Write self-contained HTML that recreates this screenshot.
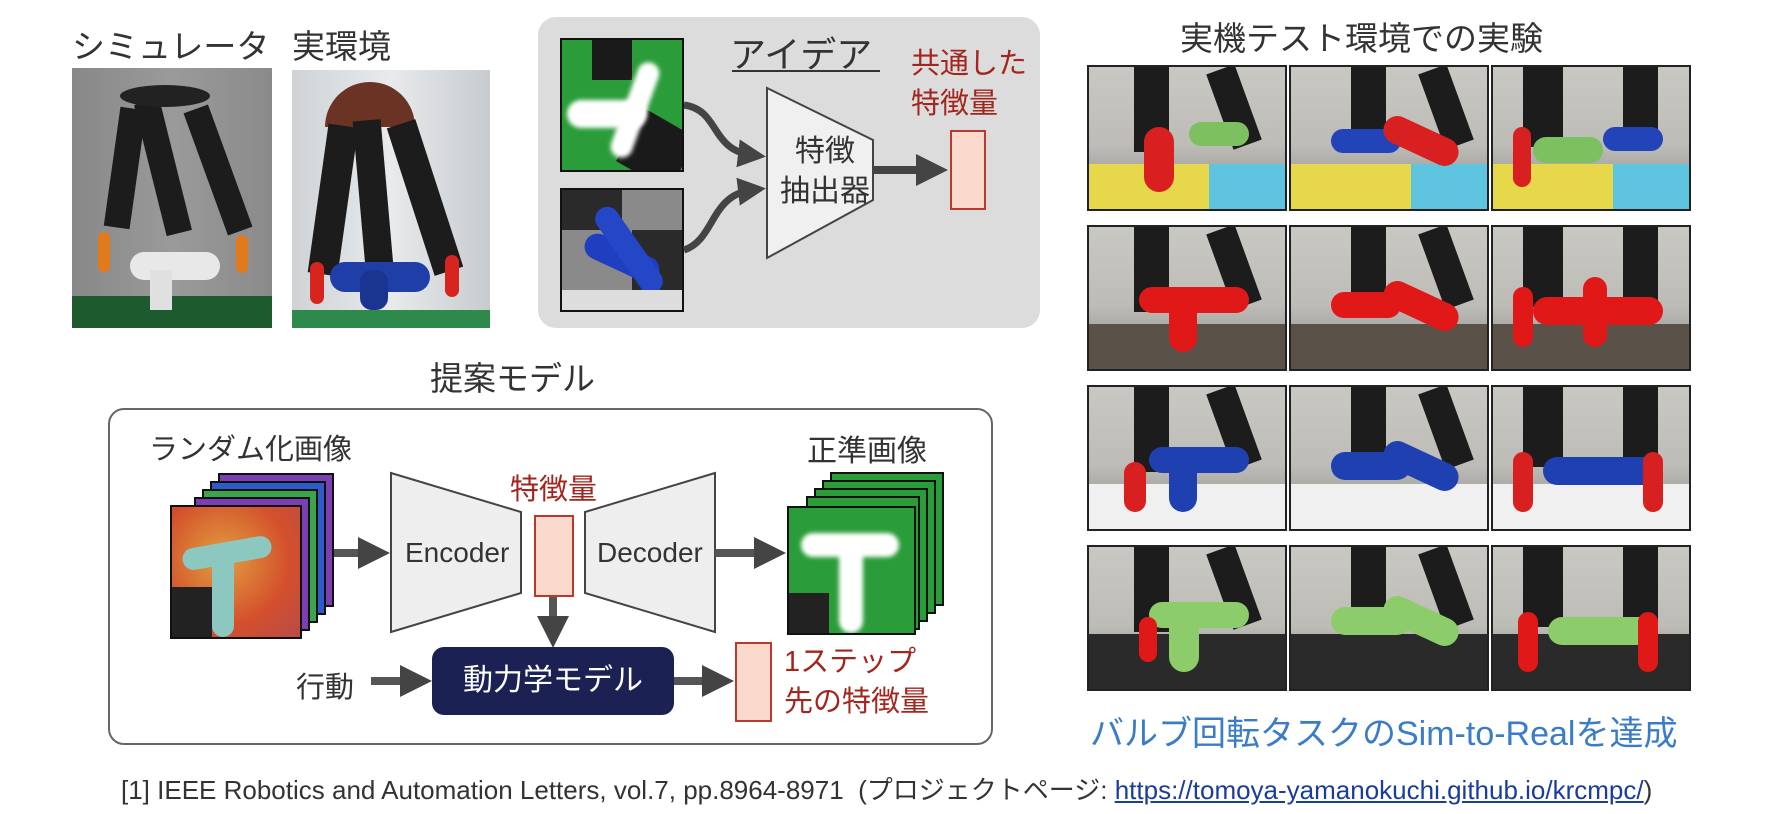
<!DOCTYPE html>
<html><head><meta charset="utf-8"><style>
body{margin:0;width:1780px;height:814px;background:#fff;position:relative;overflow:hidden;font-family:"Liberation Sans","Noto Sans CJK JP",sans-serif;color:#333}
.a{position:absolute}
.t{position:absolute;white-space:nowrap;font-size:30px;color:#333}
.red{color:#a3261e}
.pink{position:absolute;background:#f9d9cc;border:2px solid #b8392e;box-sizing:border-box}
.cell{position:absolute;width:200px;height:146px;border:2px solid #222;box-sizing:border-box;overflow:hidden;background:linear-gradient(#c9c8c2 0,#bdbcb6 55%,#888 100%)}
.arm{position:absolute;background:#1c1c1c}
.fl{position:absolute;left:0;right:0;bottom:0;height:45px}
.v{position:absolute;border-radius:20px}
</style></head><body>

<div class="t" style="left:72px;top:20px;font-size:33px">シミュレータ</div>
<div class="t" style="left:292px;top:20px;font-size:33px">実環境</div>
<div class="a" style="left:72px;top:68px;width:200px;height:260px;background:linear-gradient(90deg,#888,#9a9a9a 50%,#8a8a8a)"></div>
<div class="a" style="left:72px;top:296px;width:200px;height:32px;background:#1d5a2e"></div>
<div class="arm" style="left:112px;top:108px;width:26px;height:120px;transform:rotate(8deg)"></div>
<div class="arm" style="left:150px;top:100px;width:26px;height:135px;transform:rotate(-14deg)"></div>
<div class="arm" style="left:205px;top:105px;width:26px;height:130px;transform:rotate(-20deg)"></div>
<div class="a" style="left:120px;top:85px;width:90px;height:22px;border-radius:50%;background:#222"></div>
<div class="a" style="left:98px;top:232px;width:12px;height:40px;background:#e07a1a;border-radius:6px"></div>
<div class="a" style="left:236px;top:235px;width:12px;height:38px;background:#e07a1a;border-radius:6px"></div>
<div class="a" style="left:130px;top:252px;width:90px;height:28px;border-radius:14px;background:#e8e8e8"></div>
<div class="a" style="left:150px;top:270px;width:22px;height:40px;background:#e0e0e0"></div>

<div class="a" style="left:292px;top:70px;width:198px;height:258px;background:linear-gradient(90deg,#cfd3d6,#e8eaec 50%,#c8ccce)"></div>
<div class="a" style="left:292px;top:310px;width:198px;height:18px;background:#2e8a4b"></div>
<div class="a" style="left:325px;top:82px;width:90px;height:45px;border-radius:45px 45px 0 0;background:#6a3324"></div>
<div class="arm" style="left:318px;top:125px;width:30px;height:150px;transform:rotate(8deg)"></div>
<div class="arm" style="left:360px;top:120px;width:28px;height:170px;transform:rotate(-5deg)"></div>
<div class="arm" style="left:410px;top:120px;width:30px;height:155px;transform:rotate(-18deg)"></div>
<div class="a" style="left:310px;top:262px;width:14px;height:42px;background:#d8241e;border-radius:7px"></div>
<div class="a" style="left:445px;top:255px;width:14px;height:42px;background:#d8241e;border-radius:7px"></div>
<div class="a" style="left:330px;top:262px;width:100px;height:30px;border-radius:15px;background:#1f3ea8"></div>
<div class="a" style="left:360px;top:270px;width:28px;height:40px;border-radius:12px;background:#1a3590"></div>

<div class="a" style="left:538px;top:17px;width:502px;height:311px;background:#dcdcdc;border-radius:18px"></div>
<div class="a" style="left:560px;top:38px;width:124px;height:134px;background:#2a9d3a;border:2px solid #111;box-sizing:border-box;overflow:hidden">
 <div class="a" style="left:30px;top:0;width:40px;height:40px;background:#1a1a1a"></div>
 <div class="a" style="left:65px;top:80px;width:60px;height:60px;background:#1a1a1a;transform:rotate(30deg)"></div>
 <div class="a" style="left:5px;top:60px;width:80px;height:28px;background:#fff;border-radius:14px;filter:blur(2px)"></div>
 <div class="a" style="left:62px;top:20px;width:22px;height:100px;background:#fff;border-radius:11px;transform:rotate(20deg);filter:blur(2px)"></div>
</div>
<div class="a" style="left:560px;top:188px;width:124px;height:124px;background:#8a8a8a;border:2px solid #111;box-sizing:border-box;overflow:hidden">
 <div class="a" style="left:0;top:0;width:60px;height:40px;background:#2a2a2a"></div>
 <div class="a" style="left:70px;top:40px;width:55px;height:80px;background:#2a2a2a"></div>
 <div class="a" style="left:20px;top:55px;width:80px;height:26px;background:#1f3ec0;border-radius:13px;transform:rotate(25deg)"></div>
 <div class="a" style="left:55px;top:10px;width:24px;height:100px;background:#2447c8;border-radius:12px;transform:rotate(-35deg)"></div>
 <div class="a" style="left:0;top:100px;width:124px;height:24px;background:#ddd"></div>
</div>
<div class="t" style="left:730px;top:26px;font-size:36px">アイデア</div>
<div class="a" style="left:732px;top:70px;width:148px;height:2px;background:#333"></div>
<div class="t red" style="left:911px;top:44px;font-size:29px;line-height:40px">共通した<br>特徴量</div>
<svg class="a" style="left:0;top:0" width="1780" height="814">
 <defs><marker id="m" markerWidth="4" markerHeight="4" refX="2" refY="2" orient="auto" markerUnits="strokeWidth"><path d="M0,0 L4,2 L0,4z" fill="#444"/></marker></defs>
 <path d="M684,105 C720,110 710,150 752,155" stroke="#444" stroke-width="7" fill="none" marker-end="url(#m)"/>
 <path d="M684,250 C715,240 710,195 752,190" stroke="#444" stroke-width="7" fill="none" marker-end="url(#m)"/>
 <polygon points="767,88 873,140 873,200 767,258" fill="#f0f0f0" stroke="#444" stroke-width="2"/>
 <line x1="873" y1="170" x2="932" y2="170" stroke="#444" stroke-width="8" marker-end="url(#m)"/>
 <polygon points="391,473 521,512 521,593 391,632" fill="#eeeeee" stroke="#444" stroke-width="2"/>
 <polygon points="715,473 585,512 585,593 715,632" fill="#eeeeee" stroke="#444" stroke-width="2"/>
 <line x1="330" y1="553" x2="374" y2="553" stroke="#555" stroke-width="8" marker-end="url(#m)"/>
 <line x1="715" y1="553" x2="770" y2="553" stroke="#555" stroke-width="8" marker-end="url(#m)"/>
 <line x1="553" y1="597" x2="553" y2="632" stroke="#555" stroke-width="8" marker-end="url(#m)"/>
 <line x1="371" y1="681" x2="416" y2="681" stroke="#555" stroke-width="8" marker-end="url(#m)"/>
 <line x1="674" y1="681" x2="718" y2="681" stroke="#555" stroke-width="8" marker-end="url(#m)"/>
</svg>
<div class="t" style="left:780px;top:132px;width:90px;font-size:30px;line-height:40px;text-align:center">特徴<br>抽出器</div>
<div class="pink" style="left:950px;top:130px;width:36px;height:80px"></div>

<div class="t" style="left:430px;top:352px;font-size:33px">提案モデル</div>
<div class="a" style="left:108px;top:408px;width:885px;height:337px;border:2px solid #666;border-radius:16px;box-sizing:border-box"></div>
<div class="t" style="left:149px;top:426px;font-size:29px">ランダム化画像</div>
<div class="a" style="left:218px;top:473px;width:112px;height:130px;background:#7a3fb0;border:2px solid #111"></div>
<div class="a" style="left:210px;top:481px;width:112px;height:130px;background:#2d5cc8;border:2px solid #111"></div>
<div class="a" style="left:202px;top:489px;width:112px;height:130px;background:#3aa54a;border:2px solid #111"></div>
<div class="a" style="left:194px;top:497px;width:112px;height:130px;background:#7a3fb0;border:2px solid #111"></div>
<div class="a" style="left:170px;top:505px;width:128px;height:130px;background:radial-gradient(circle at 40% 40%,#e0a040,#d4502c 60%,#b84a4a);border:2px solid #111;overflow:hidden">
 <div class="a" style="left:10px;top:35px;width:90px;height:22px;border-radius:11px;background:#8cc8c0;transform:rotate(-10deg)"></div>
 <div class="a" style="left:40px;top:40px;width:22px;height:90px;border-radius:11px;background:#8cc8c0"></div>
 <div class="a" style="left:0;top:80px;width:40px;height:50px;background:#222"></div>
</div>
<div class="t" style="left:405px;top:537px;font-size:28px">Encoder</div>
<div class="t" style="left:597px;top:537px;font-size:28px">Decoder</div>
<div class="t red" style="left:510px;top:466px;font-size:29px">特徴量</div>
<div class="pink" style="left:534px;top:515px;width:40px;height:82px"></div>
<div class="t" style="left:807px;top:426px;font-size:30px">正準画像</div>
<div class="a" style="left:830px;top:472px;width:110px;height:130px;background:#2a9d3a;border:2px solid #111"></div>
<div class="a" style="left:822px;top:480px;width:110px;height:130px;background:#2a9d3a;border:2px solid #111"></div>
<div class="a" style="left:814px;top:488px;width:110px;height:130px;background:#2a9d3a;border:2px solid #111"></div>
<div class="a" style="left:806px;top:496px;width:110px;height:130px;background:#2a9d3a;border:2px solid #111"></div>
<div class="a" style="left:787px;top:506px;width:125px;height:125px;background:#2a9d3a;border:2px solid #111;overflow:hidden">
 <div class="a" style="left:12px;top:25px;width:98px;height:24px;border-radius:12px;background:#fff;filter:blur(2px)"></div>
 <div class="a" style="left:50px;top:35px;width:24px;height:90px;border-radius:12px;background:#fff;filter:blur(2px)"></div>
 <div class="a" style="left:0;top:85px;width:40px;height:40px;background:#222"></div>
</div>
<div class="a" style="left:432px;top:647px;width:242px;height:68px;background:#1b2152;border-radius:12px;color:#fff;font-size:30px;line-height:68px;text-align:center">動力学モデル</div>
<div class="t" style="left:296px;top:664px;font-size:29px">行動</div>
<div class="pink" style="left:735px;top:642px;width:37px;height:80px"></div>
<div class="t red" style="left:784px;top:642px;font-size:29px;line-height:40px">1ステップ<br>先の特徴量</div>

<div class="t" style="left:1180px;top:12px;font-size:33px">実機テスト環境での実験</div>
<div class="a" style="left:1087px;top:65px;width:604px;height:628px">
 <div class="cell" style="left:0;top:0"><div class="fl" style="background:#e6d84a"></div><div class="fl" style="left:120px;background:#5ec4df"></div><div class="arm" style="left:45px;top:0;width:35px;height:85px"></div><div class="arm" style="left:130px;top:0;width:30px;height:80px;transform:rotate(-20deg)"></div><div class="v" style="left:55px;top:60px;width:30px;height:65px;background:#d82020"></div><div class="v" style="left:100px;top:55px;width:60px;height:24px;background:#7cc060"></div></div>
 <div class="cell" style="left:202px;top:0"><div class="fl" style="background:#e6d84a"></div><div class="fl" style="left:120px;background:#5ec4df"></div><div class="arm" style="left:60px;top:0;width:35px;height:85px"></div><div class="arm" style="left:140px;top:0;width:30px;height:80px;transform:rotate(-20deg)"></div><div class="v" style="left:40px;top:62px;width:70px;height:24px;background:#2244b8"></div><div class="v" style="left:90px;top:60px;width:80px;height:28px;background:#d82020;transform:rotate(25deg)"></div></div>
 <div class="cell" style="left:404px;top:0"><div class="fl" style="background:#e6d84a"></div><div class="fl" style="left:120px;background:#5ec4df"></div><div class="arm" style="left:30px;top:0;width:40px;height:80px"></div><div class="arm" style="left:130px;top:0;width:35px;height:75px"></div><div class="v" style="left:40px;top:70px;width:70px;height:26px;background:#7cc060"></div><div class="v" style="left:110px;top:60px;width:60px;height:24px;background:#2244b8"></div><div class="v" style="left:20px;top:60px;width:18px;height:60px;background:#d82020"></div></div>
 <div class="cell" style="top:160px;left:0"><div class="fl" style="background:#5a5248"></div><div class="arm" style="left:45px;top:0;width:35px;height:85px"></div><div class="arm" style="left:130px;top:0;width:30px;height:80px;transform:rotate(-20deg)"></div><div class="v" style="left:50px;top:60px;width:110px;height:26px;background:#e01818"></div><div class="v" style="left:80px;top:70px;width:28px;height:55px;background:#e01818"></div></div>
 <div class="cell" style="top:160px;left:202px"><div class="fl" style="background:#5a5248"></div><div class="arm" style="left:60px;top:0;width:35px;height:85px"></div><div class="arm" style="left:140px;top:0;width:30px;height:80px;transform:rotate(-20deg)"></div><div class="v" style="left:40px;top:65px;width:70px;height:26px;background:#e01818"></div><div class="v" style="left:90px;top:65px;width:80px;height:28px;background:#e01818;transform:rotate(25deg)"></div></div>
 <div class="cell" style="top:160px;left:404px"><div class="fl" style="background:#5a5248"></div><div class="arm" style="left:30px;top:0;width:40px;height:80px"></div><div class="arm" style="left:130px;top:0;width:35px;height:75px"></div><div class="v" style="left:40px;top:70px;width:130px;height:28px;background:#e01818"></div><div class="v" style="left:20px;top:60px;width:20px;height:60px;background:#e01818"></div><div class="v" style="left:90px;top:50px;width:24px;height:70px;background:#e01818"></div></div>
 <div class="cell" style="top:320px;left:0"><div class="fl" style="background:#f0f0f0"></div><div class="arm" style="left:45px;top:0;width:35px;height:85px"></div><div class="arm" style="left:130px;top:0;width:30px;height:80px;transform:rotate(-20deg)"></div><div class="v" style="left:60px;top:60px;width:100px;height:26px;background:#1f40b0"></div><div class="v" style="left:80px;top:70px;width:28px;height:55px;background:#1f40b0"></div><div class="v" style="left:35px;top:75px;width:22px;height:50px;background:#d82020"></div></div>
 <div class="cell" style="top:320px;left:202px"><div class="fl" style="background:#f0f0f0"></div><div class="arm" style="left:60px;top:0;width:35px;height:85px"></div><div class="arm" style="left:140px;top:0;width:30px;height:80px;transform:rotate(-20deg)"></div><div class="v" style="left:40px;top:65px;width:80px;height:28px;background:#1f40b0"></div><div class="v" style="left:90px;top:65px;width:80px;height:28px;background:#1f40b0;transform:rotate(25deg)"></div></div>
 <div class="cell" style="top:320px;left:404px"><div class="fl" style="background:#f0f0f0"></div><div class="arm" style="left:30px;top:0;width:40px;height:80px"></div><div class="arm" style="left:130px;top:0;width:35px;height:75px"></div><div class="v" style="left:50px;top:70px;width:120px;height:28px;background:#1f40b0"></div><div class="v" style="left:20px;top:65px;width:20px;height:60px;background:#d82020"></div><div class="v" style="left:150px;top:65px;width:20px;height:60px;background:#d82020"></div></div>
 <div class="cell" style="top:480px;left:0"><div class="fl" style="background:#2a2a2a;height:55px"></div><div class="arm" style="left:45px;top:0;width:35px;height:85px"></div><div class="arm" style="left:130px;top:0;width:30px;height:80px;transform:rotate(-20deg)"></div><div class="v" style="left:60px;top:55px;width:100px;height:26px;background:#8ccc6a"></div><div class="v" style="left:80px;top:65px;width:30px;height:60px;background:#8ccc6a"></div><div class="v" style="left:50px;top:70px;width:18px;height:45px;background:#e01818"></div></div>
 <div class="cell" style="top:480px;left:202px"><div class="fl" style="background:#2a2a2a;height:55px"></div><div class="arm" style="left:60px;top:0;width:35px;height:85px"></div><div class="arm" style="left:140px;top:0;width:30px;height:80px;transform:rotate(-20deg)"></div><div class="v" style="left:40px;top:60px;width:80px;height:28px;background:#8ccc6a"></div><div class="v" style="left:90px;top:60px;width:80px;height:28px;background:#8ccc6a;transform:rotate(25deg)"></div></div>
 <div class="cell" style="top:480px;left:404px"><div class="fl" style="background:#2a2a2a;height:55px"></div><div class="arm" style="left:30px;top:0;width:40px;height:80px"></div><div class="arm" style="left:130px;top:0;width:35px;height:75px"></div><div class="v" style="left:55px;top:70px;width:110px;height:28px;background:#8ccc6a"></div><div class="v" style="left:25px;top:65px;width:20px;height:60px;background:#e01818"></div><div class="v" style="left:145px;top:65px;width:20px;height:60px;background:#e01818"></div></div>
</div>
<div class="t" style="left:1090px;top:706px;color:#3a7cc8;font-size:34px">バルブ回転タスクのSim-to-Realを達成</div>

<div class="t" style="left:121px;top:770px;font-size:26px;color:#333">[1] IEEE Robotics and Automation Letters, vol.7, pp.8964-8971 &nbsp;(プロジェクトページ: <span style="text-decoration:underline;color:#1a3d9a">https://tomoya-yamanokuchi.github.io/krcmpc/</span>)</div>
</body></html>
